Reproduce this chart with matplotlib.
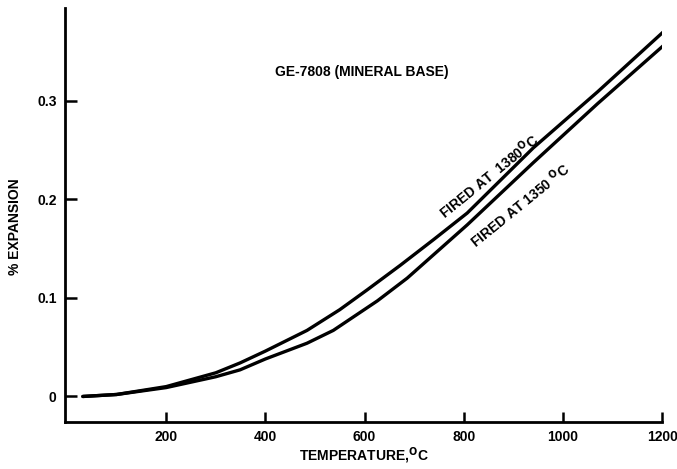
import matplotlib
matplotlib.use('Agg')
import matplotlib.pyplot as plt

# Кривые расширения
temp_1380 = [32, 100, 200, 300, 349, 400, 484, 550, 605, 672, 739, 807, 940, 1070, 1203]
exp_1380 = [0.0, 0.002, 0.010, 0.024, 0.034, 0.046, 0.067, 0.088, 0.108, 0.133, 0.159, 0.186, 0.252, 0.309, 0.370]

temp_1350 = [32, 100, 200, 300, 349, 400, 484, 537, 626, 686, 807, 940, 1070, 1203]
exp_1350 = [0.0, 0.002, 0.009, 0.020, 0.027, 0.038, 0.054, 0.067, 0.097, 0.120, 0.174, 0.237, 0.297, 0.356]

x_ticks = [200, 400, 600, 800, 1000, 1200]
y_ticks = [0, 0.1, 0.2, 0.3]
y_tick_labels = ['0', '0.1', '0.2', '0.3']

plt.rcParams['font.family'] = ['Liberation Sans', 'DejaVu Sans']
plt.rcParams['font.weight'] = 'bold'
plt.rcParams['mathtext.default'] = 'bf'

fig = plt.figure(figsize=(6.77, 4.69), dpi=100)
ax = fig.add_axes([0.096, 0.100, 0.882, 0.883])

ax.plot(temp_1380, exp_1380, color='black', lw=2.4, solid_capstyle='round')
ax.plot(temp_1350, exp_1350, color='black', lw=2.4, solid_capstyle='round')

ax.set_xlim(-4, 1200)
ax.set_ylim(-0.026, 0.394)

ax.spines['top'].set_visible(False)
ax.spines['right'].set_visible(False)
ax.spines['left'].set_linewidth(2)
ax.spines['bottom'].set_linewidth(2)

ax.set_xticks(x_ticks)
ax.set_xticklabels([str(t) for t in x_ticks], fontsize=10, fontweight='bold')
ax.set_yticks(y_ticks)
ax.set_yticklabels(y_tick_labels, fontsize=10, fontweight='bold')
ax.tick_params(axis='y', direction='in', length=8.5, width=1.8, pad=6)
ax.tick_params(axis='x', direction='in', length=7.5, width=1.8, pad=6)

ax.set_xlabel('TEMPERATURE,$^{O}$C', fontsize=10, fontweight='bold')
ax.xaxis.set_label_coords(0.5, -0.057)
ax.set_ylabel('% EXPANSION', fontsize=10, fontweight='bold')
ax.yaxis.set_label_coords(-0.072, 0.473)

ax.text(595, 0.329, 'GE-7808 (MINERAL BASE)', fontsize=10, fontweight='bold',
        ha='center', va='center')
ax.text(850, 0.224, 'FIRED AT  1380$^{O}$C', fontsize=10, fontweight='bold',
        ha='center', va='center', rotation=39, rotation_mode='anchor')
ax.text(914, 0.194, 'FIRED AT 1350 $^{O}$C', fontsize=10, fontweight='bold',
        ha='center', va='center', rotation=39, rotation_mode='anchor')

fig.savefig('out.png', dpi=100)
